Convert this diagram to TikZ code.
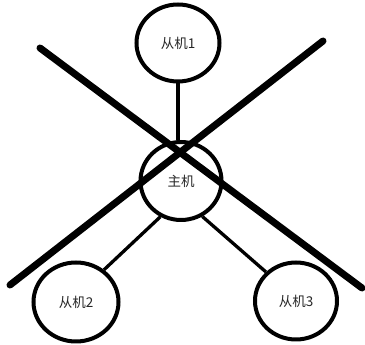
\documentclass[tikz,border=0pt]{standalone}
\usepackage{fontspec}
\newfontfamily\cjk{Noto Sans CJK SC}
\usetikzlibrary{shapes.geometric}
\begin{document}
\begin{tikzpicture}[x=1pt,y=1pt,
  station/.style={ellipse, draw, line width=4pt, inner sep=0pt, font=\cjk\fontsize{13.5}{13.5}\selectfont, text=black!85},
  link/.style={line width=3.3pt},
  cross/.style={line width=7pt, line cap=round}]
\useasboundingbox (0,0) rectangle (365,345);
\node[station, minimum width=83pt, minimum height=77pt] (top) at (178,302) {从机1};
\node[station, minimum width=81pt, minimum height=78pt] (main) at (181,164) {主机};
\node[station, minimum width=85pt, minimum height=79pt] (bl) at (76,43) {从机2};
\node[station, minimum width=82pt, minimum height=77pt] (br) at (296,44) {从机3};
\draw[link] (top.south) -- (top.south |- main.north);
\draw[link] (bl.49) -- (main.240);
\draw[link] (br.136) -- (main.301);
\coordinate (a1) at (40,297);
\coordinate (a2) at (362,57);
\coordinate (b1) at (323,304);
\coordinate (b2) at (10,60);
\draw[cross] (a1) -- (a2);
\draw[cross] (b1) -- (b2);
\end{tikzpicture}
\end{document}
